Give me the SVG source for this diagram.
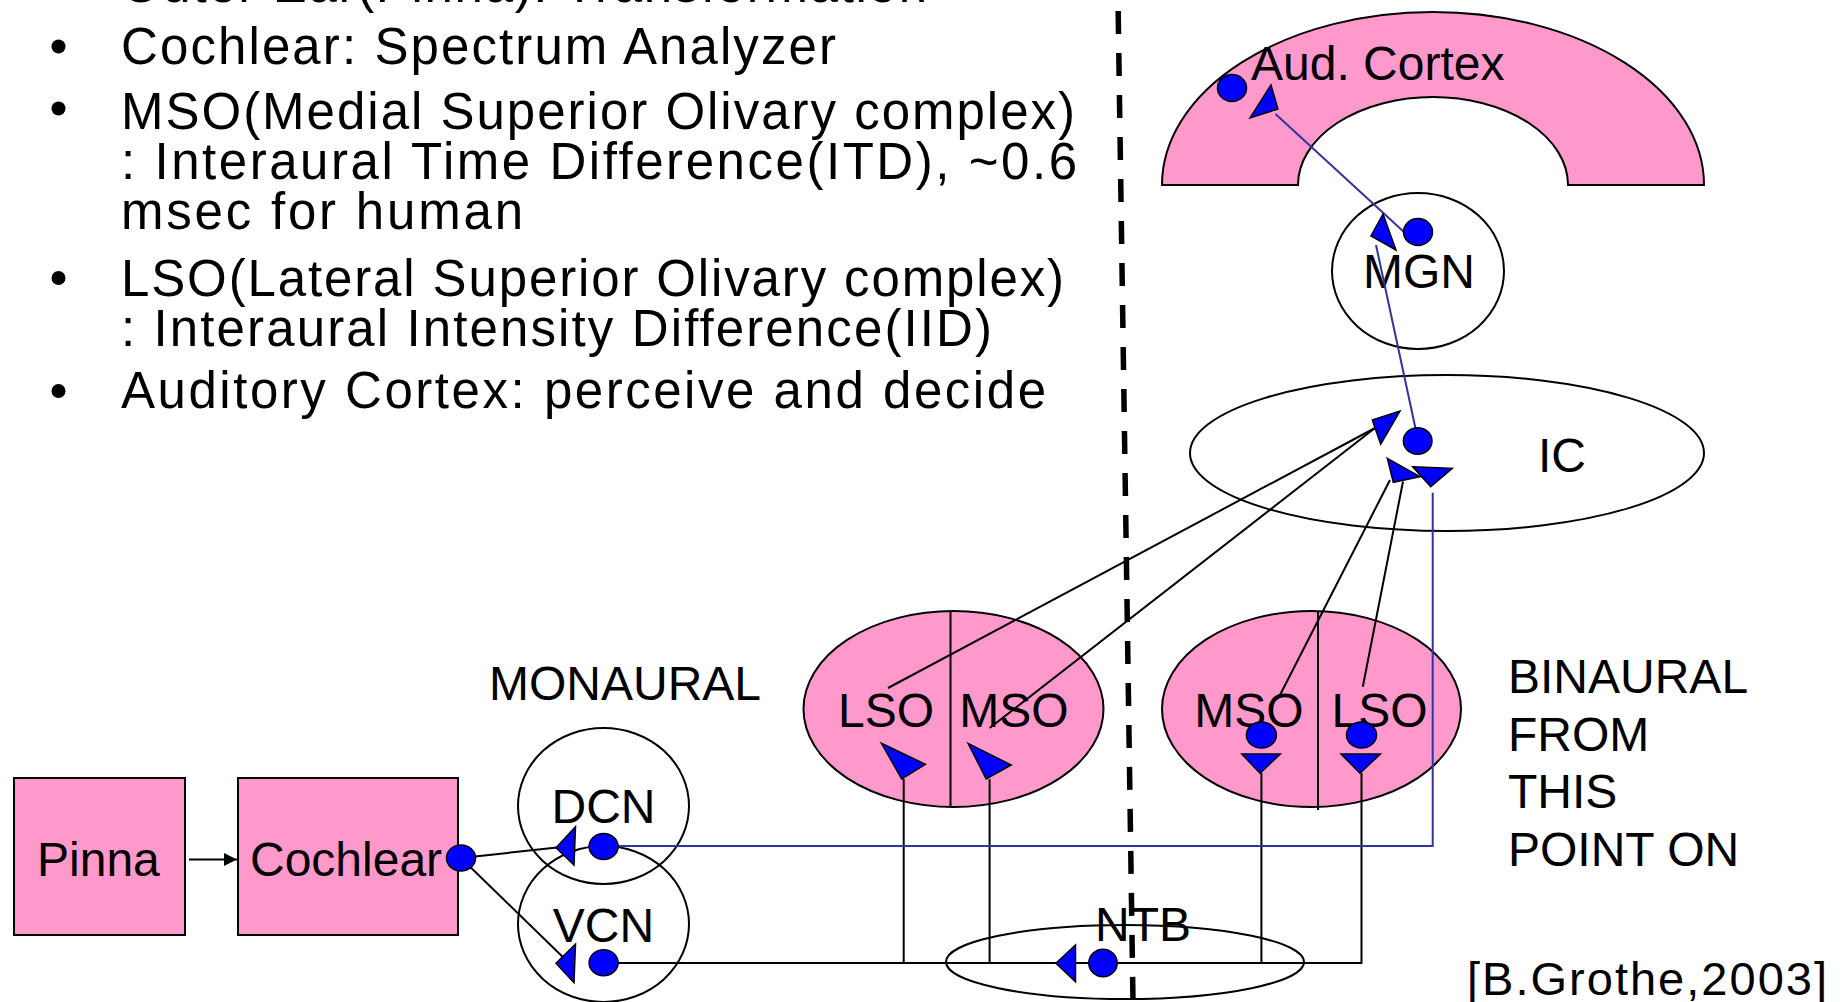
<svg xmlns="http://www.w3.org/2000/svg" width="1840" height="1002" viewBox="0 0 1840 1002">
  <style>
    .bg { fill: #ffffff; }
    .pink { fill: #FF99CC; stroke: #000000; stroke-width: 2; }
    .ring { fill: none; stroke: #000000; stroke-width: 2; }
    .lbl { font-family: "Liberation Sans", Arial, sans-serif; font-size: 48px; fill: #000000; }
    .mid { text-anchor: middle; }
    .bul { font-family: "Liberation Sans", Arial, sans-serif; font-size: 51px; fill: #000000; }
    .cite { font-family: "Liberation Sans", Arial, sans-serif; font-size: 47px; fill: #000000; }
    .dot { fill: #0000FF; stroke: #000000; stroke-width: 1.5; }
    .tri { fill: #0000FF; stroke: #000000; stroke-width: 1.5; stroke-linejoin: miter; }
    .wire { fill: none; stroke: #000000; stroke-width: 2; }
    .blue { fill: none; stroke: #333399; stroke-width: 2; }
    .midline { fill: none; stroke: #000000; stroke-width: 5.5; stroke-dasharray: 23 19; stroke-dashoffset: 31; }
  </style>
  <defs>
    <marker id="head" viewBox="0 0 10 10" refX="10" refY="5" markerWidth="15" markerHeight="13" markerUnits="userSpaceOnUse" orient="auto">
      <path d="M0,0 L10,5 L0,10 Z" fill="#000000"/>
    </marker>
  </defs>

  <rect class="bg" x="0" y="0" width="1840" height="1002"/>

  <!-- bullet list -->
  <g id="notes">
    <text class="bul" x="121" y="2" textLength="806" lengthAdjust="spacing">Outer Ear(Pinna): Transformation</text>
    <circle cx="58.5" cy="46.5" r="7"/>
    <text class="bul" x="121" y="64" textLength="715" lengthAdjust="spacing">Cochlear: Spectrum Analyzer</text>
    <circle cx="58.5" cy="108.5" r="7"/>
    <text class="bul" x="121" y="129" textLength="954" lengthAdjust="spacing">MSO(Medial Superior Olivary complex)</text>
    <text class="bul" x="121" y="179" textLength="956" lengthAdjust="spacing">: Interaural Time Difference(ITD), ~0.6</text>
    <text class="bul" x="121" y="229" textLength="402" lengthAdjust="spacing">msec for human</text>
    <circle cx="58.5" cy="278" r="7"/>
    <text class="bul" x="121" y="296" textLength="943" lengthAdjust="spacing">LSO(Lateral Superior Olivary complex)</text>
    <text class="bul" x="121" y="346" textLength="871" lengthAdjust="spacing">: Interaural Intensity Difference(IID)</text>
    <circle cx="58.5" cy="391" r="7"/>
    <text class="bul" x="121" y="408" textLength="925" lengthAdjust="spacing">Auditory Cortex: perceive and decide</text>
  </g>

  <!-- stages of the pathway -->
  <g id="pinna">
    <rect class="pink" x="14" y="778" width="171" height="157"/>
    <text class="lbl" x="37" y="876">Pinna</text>
  </g>
  <g id="cochlear">
    <rect class="pink" x="238" y="778" width="220" height="157"/>
    <text class="lbl" x="250" y="876">Cochlear</text>
  </g>
  <g id="dcn">
    <ellipse class="ring" cx="603.5" cy="806" rx="85.5" ry="78"/>
    <text class="lbl mid" x="603.5" y="823">DCN</text>
  </g>
  <g id="vcn">
    <ellipse class="ring" cx="603.5" cy="924" rx="85.5" ry="78"/>
    <text class="lbl mid" x="603.5" y="942">VCN</text>
  </g>
  <g id="olive-left">
    <ellipse class="pink" cx="953.5" cy="709" rx="150" ry="98"/>
    <line class="wire" x1="950.5" y1="611" x2="950.5" y2="806"/>
    <text class="lbl mid" x="886" y="727">LSO</text>
    <text class="lbl mid" x="1014" y="727">MSO</text>
  </g>
  <g id="olive-right">
    <ellipse class="pink" cx="1311.5" cy="709" rx="149.5" ry="98"/>
    <line class="wire" x1="1318" y1="611" x2="1318" y2="810"/>
    <text class="lbl mid" x="1249" y="727">MSO</text>
    <text class="lbl mid" x="1379.5" y="727">LSO</text>
  </g>
  <g id="ntb">
    <ellipse class="ring" cx="1125" cy="962" rx="179" ry="37"/>
    <text class="lbl mid" x="1143" y="941">NTB</text>
  </g>
  <g id="ic">
    <ellipse class="ring" cx="1447" cy="453" rx="257" ry="78"/>
    <text class="lbl mid" x="1562" y="472">IC</text>
  </g>
  <g id="mgn">
    <ellipse class="ring" cx="1418" cy="271" rx="86" ry="78"/>
    <text class="lbl mid" x="1419" y="288">MGN</text>
  </g>
  <g id="aud-cortex">
    <path class="pink" d="M1162,185 A271,173 0 0 1 1704,185 L1568,185 A135,88 0 0 0 1298,185 Z"/>
    <text class="lbl" x="1251" y="80">Aud. Cortex</text>
  </g>

  <g id="monaural-label">
    <text class="lbl" x="489" y="700">MONAURAL</text>
  </g>
  <g id="binaural-label">
    <text class="lbl" x="1508" y="693">BINAURAL</text>
    <text class="lbl" x="1508" y="750.5">FROM</text>
    <text class="lbl" x="1508" y="808">THIS</text>
    <text class="lbl" x="1508" y="865.5">POINT ON</text>
  </g>
  <g id="citation">
    <text class="cite" x="1467" y="995" textLength="360" lengthAdjust="spacing">[B.Grothe,2003]</text>
  </g>

  <!-- connections -->
  <g id="connectors">
    <line class="wire" x1="189" y1="859.5" x2="237" y2="859.5" marker-end="url(#head)"/>
    <line class="wire" x1="461" y1="858" x2="557" y2="847.5"/>
    <line class="wire" x1="461" y1="858" x2="569" y2="963"/>
    <polyline class="wire" points="604,963 1361.5,963 1361.5,773"/>
    <line class="wire" x1="903.7" y1="963" x2="903.7" y2="779"/>
    <line class="wire" x1="989.6" y1="963" x2="989.6" y2="779"/>
    <line class="wire" x1="1261.4" y1="963" x2="1261.4" y2="773"/>
    <line class="wire" x1="888" y1="688" x2="1375" y2="428"/>
    <line class="wire" x1="989.6" y1="728" x2="1375" y2="428"/>
    <line class="wire" x1="1280" y1="695" x2="1390" y2="480"/>
    <line class="wire" x1="1362.8" y1="686.7" x2="1403" y2="481.5"/>
    <polyline class="blue" points="604,846 1432.7,846 1432.7,492.7"/>
    <line class="blue" x1="1376" y1="245" x2="1418" y2="440"/>
    <line class="blue" x1="1275.5" y1="114" x2="1404" y2="232"/>
  </g>

  <!-- synapse markers: cell bodies (dots) and terminals (triangles) -->
  <g id="synapses">
    <ellipse class="dot" cx="461" cy="858" rx="14.5" ry="13"/>
    <polygon class="tri" points="556,847.7 575.5,826.7 574,865"/>
    <ellipse class="dot" cx="603.6" cy="846.5" rx="14.5" ry="13"/>
    <polygon class="tri" points="556,963.3 575.5,944 574,982.7"/>
    <ellipse class="dot" cx="603.6" cy="962.7" rx="14.5" ry="13"/>
    <polygon class="tri" points="881.4,743.3 925.4,764.3 901.7,779"/>
    <polygon class="tri" points="968,743.3 1011.2,765 986.2,779"/>
    <ellipse class="dot" cx="1261.4" cy="735" rx="15" ry="13"/>
    <ellipse class="dot" cx="1361.5" cy="735" rx="15" ry="13"/>
    <polygon class="tri" points="1241.8,754 1280.3,754 1260,773.3"/>
    <polygon class="tri" points="1341,754 1380.4,754 1360,773.3"/>
    <polygon class="tri" points="1055.9,963.3 1075.5,945 1075.5,981.7"/>
    <ellipse class="dot" cx="1103" cy="963" rx="14.2" ry="13.7"/>
    <polygon class="tri" points="1372.3,420 1400,411 1380.7,444.3"/>
    <polygon class="tri" points="1387.3,458.3 1420,476.7 1393.3,482.3"/>
    <polygon class="tri" points="1412.7,466.7 1452.3,468.3 1430.7,486.7"/>
    <ellipse class="dot" cx="1417.7" cy="441" rx="14.3" ry="13.3"/>
    <polygon class="tri" points="1383,214 1371,236 1396,250"/>
    <ellipse class="dot" cx="1418" cy="232" rx="14.5" ry="13.5"/>
    <polygon class="tri" points="1271,85 1250,118 1278,109"/>
    <ellipse class="dot" cx="1232" cy="88" rx="14.5" ry="13.5"/>
  </g>

  <!-- midline -->
  <line id="midline" class="midline" x1="1118" y1="0" x2="1133" y2="1002"/>
</svg>
